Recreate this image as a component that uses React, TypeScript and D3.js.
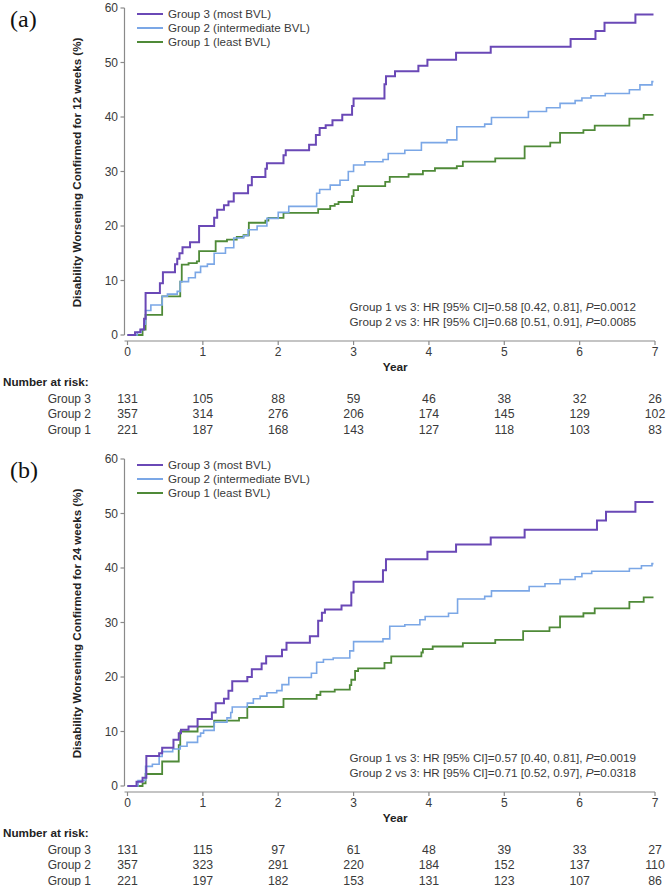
import React from "react";
import * as d3 from "d3";

type Pt = [number, number];

const years = [0, 1, 2, 3, 4, 5, 6, 7];
const yTicks = [0, 10, 20, 30, 40, 50, 60];
const groupNames = ["Group 3", "Group 2", "Group 1"];
const legendLabels = ["Group 3 (most BVL)", "Group 2 (intermediate BVL)", "Group 1 (least BVL)"];
const groupColors = ["#6a48b6", "#7ba7e6", "#4f8a38"];
const groupWidths = [2, 1.6, 1.8];

// Panel (a): 12-week confirmed
const a3: Pt[] = [[0,0],[0.1,0.5],[0.17,1],[0.22,3],[0.24,7.7],[0.43,9.5],[0.47,11.5],[0.63,13],[0.66,14],[0.69,15],[0.73,16.1],[0.83,17],[0.95,20],[1.15,21.5],[1.19,23],[1.28,23.8],[1.34,24.5],[1.41,26],[1.6,27.5],[1.65,29],[1.83,30.5],[1.85,31.5],[2.07,33],[2.1,33.9],[2.41,34.9],[2.5,36.7],[2.55,38],[2.63,38.5],[2.72,39.4],[2.85,40.4],[2.98,42],[3.0,43.4],[3.41,46],[3.43,47.5],[3.55,48.4],[3.86,49.4],[3.98,50.5],[4.36,51.8],[4.82,52.9],[5.88,54.3],[6.21,55.8],[6.33,57.3],[6.74,58.8],[6.98,58.8]];
const a2: Pt[] = [[0,0],[0.13,0.5],[0.18,1],[0.22,2],[0.24,4.5],[0.31,5.5],[0.46,7.1],[0.53,7.5],[0.66,8],[0.7,9.8],[0.81,10.5],[0.9,11.5],[0.97,12.6],[1.06,13],[1.15,15],[1.3,16],[1.41,17.8],[1.54,18.2],[1.6,19.3],[1.72,20],[1.85,21.4],[2.0,22.5],[2.14,23.6],[2.51,26],[2.55,26.7],[2.69,27.5],[2.82,28.4],[2.93,30],[3.0,31.2],[3.15,31.8],[3.39,32.2],[3.46,33.3],[3.68,33.9],[3.9,35.3],[4.24,35.8],[4.37,38.2],[4.74,38.7],[4.83,39.9],[5.32,41],[5.56,41.7],[5.74,42.5],[5.94,43],[6.03,43.5],[6.15,43.9],[6.34,44.3],[6.66,45],[6.8,45.9],[6.96,46.5],[6.98,46.5]];
const a1: Pt[] = [[0,0],[0.2,1],[0.24,3.7],[0.46,7.1],[0.7,9.8],[0.72,12.9],[0.81,13.2],[0.92,13.5],[0.95,15.4],[1.17,17.2],[1.32,17.5],[1.45,18],[1.54,18.3],[1.61,20.6],[1.83,21],[1.87,21.5],[2.07,22.4],[2.53,23.1],[2.69,23.7],[2.75,24],[2.8,24.4],[2.98,25.5],[3.0,26.6],[3.06,27.3],[3.42,28.1],[3.48,29],[3.73,29.5],[3.92,30.1],[4.08,30.6],[4.37,31],[4.45,31.8],[4.88,32.4],[5.27,34.6],[5.61,35.3],[5.74,37.1],[6.05,37.6],[6.2,38.4],[6.66,39.7],[6.85,40.4],[6.98,40.4]];

// Panel (b): 24-week confirmed
const b3: Pt[] = [[0,0],[0.12,0.8],[0.2,1.5],[0.25,5.5],[0.42,6],[0.46,7],[0.61,8.5],[0.68,9.7],[0.71,10.3],[0.81,10.9],[0.93,12.3],[1.12,13.5],[1.17,15.2],[1.28,16],[1.34,17.5],[1.39,19.2],[1.59,20],[1.65,21.4],[1.78,22.5],[1.84,23.8],[2.05,25],[2.11,26.3],[2.42,27.5],[2.53,30.3],[2.58,31.8],[2.62,32.4],[2.84,33.1],[2.97,35.5],[3.0,37.5],[3.39,39.6],[3.43,41.6],[3.98,43],[4.36,44.3],[4.82,45.6],[5.27,47],[6.23,48.7],[6.35,50.3],[6.74,52.1],[6.98,52.1]];
const b2: Pt[] = [[0,0],[0.14,1],[0.24,3.6],[0.33,4],[0.42,5.4],[0.46,6.3],[0.6,6.8],[0.7,7.3],[0.79,8],[0.93,9.1],[0.97,9.7],[1.01,10.2],[1.15,11.7],[1.32,12.5],[1.37,13.5],[1.39,14.5],[1.59,15.2],[1.67,16],[1.76,16.5],[1.85,17.1],[1.98,17.5],[2.05,18.6],[2.14,19.9],[2.44,20.7],[2.51,22.7],[2.6,23.2],[2.73,23.5],[2.95,24.8],[3.0,26.5],[3.39,27],[3.48,29.3],[3.68,29.6],[3.88,30.5],[3.95,31.1],[4.26,31.7],[4.38,34.3],[4.74,34.8],[4.83,35.8],[5.33,36.6],[5.54,37.1],[5.74,37.9],[5.94,38.4],[6.03,39],[6.16,39.4],[6.66,39.9],[6.82,40.4],[6.96,40.8],[6.98,40.8]];
const b1: Pt[] = [[0,0],[0.2,0.5],[0.24,2.2],[0.46,4.5],[0.68,7.5],[0.7,10],[0.93,10.9],[1.15,12],[1.48,12.5],[1.59,14.5],[2.07,16],[2.51,16.7],[2.56,17.3],[2.75,17.7],[2.95,18.5],[2.97,19.5],[3.02,21.1],[3.06,21.6],[3.41,22.6],[3.5,23.8],[3.9,24.5],[3.92,25.1],[4.05,25.6],[4.45,26.2],[4.88,26.8],[5.25,28.4],[5.6,29.1],[5.74,31.1],[6.05,31.7],[6.2,32.6],[6.66,33.8],[6.85,34.6],[6.98,34.6]];

const riskA = [
  [131, 105, 88, 59, 46, 38, 32, 26],
  [357, 314, 276, 206, 174, 145, 129, 102],
  [221, 187, 168, 143, 127, 118, 103, 83],
];
const riskB = [
  [131, 115, 97, 61, 48, 39, 33, 27],
  [357, 323, 291, 220, 184, 152, 137, 110],
  [221, 197, 182, 153, 131, 123, 107, 86],
];

const hrA = [
  ["Group 1 vs 3: HR [95% CI]=0.58 [0.42, 0.81], ", "=0.0012"],
  ["Group 2 vs 3: HR [95% CI]=0.68 [0.51, 0.91], ", "=0.0085"],
];
const hrB = [
  ["Group 1 vs 3: HR [95% CI]=0.57 [0.40, 0.81], ", "=0.0019"],
  ["Group 2 vs 3: HR [95% CI]=0.71 [0.52, 0.97], ", "=0.0318"],
];

const SANS = "'Liberation Sans', Arial, Helvetica, sans-serif";
const AXIS = "#8a8a8a";
const TXT = "#3a3a3a";

function Panel({ top, label, weeks, series, risk, hr }: {
  top: number; label: string; weeks: number; series: Pt[][]; risk: number[][]; hr: string[][];
}) {
  const x = d3.scaleLinear().domain([0, 7]).range([127.5, 655]);
  const y = d3.scaleLinear().domain([0, 60]).range([top + 327, top]);
  const xAxisY = top + 333;
  const line = d3.line<Pt>().x(d => x(d[0])).y(d => y(d[1])).curve(d3.curveStepAfter);
  const order = [2, 1, 0];
  return (
    <g>
      <text x={10} y={top + 19} fontFamily="'Liberation Serif', 'Times New Roman', serif" fontSize={24} fill="#111">{label}</text>
      {/* y axis */}
      <line x1={124.5} x2={124.5} y1={y(60)} y2={y(0)} stroke={AXIS} strokeWidth={1.2} />
      {yTicks.map(t => (
        <g key={t}>
          <line x1={120.5} x2={124.5} y1={y(t)} y2={y(t)} stroke={AXIS} strokeWidth={1.2} />
          <text x={118} y={y(t)} dy="0.36em" textAnchor="end" fontFamily={SANS} fontSize={12} fill={TXT}>{t}</text>
        </g>
      ))}
      <text transform={`translate(81,${y(30) + 1}) rotate(-90)`} textAnchor="middle" fontFamily={SANS} fontSize={11.6} fontWeight="bold" fill="#222">
        {`Disability Worsening Confirmed for ${weeks} weeks (%)`}
      </text>
      {/* x axis */}
      <line x1={124.5} x2={x(7)} y1={xAxisY} y2={xAxisY} stroke={AXIS} strokeWidth={1.2} />
      {years.map(t => (
        <g key={t}>
          <line x1={x(t)} x2={x(t)} y1={xAxisY} y2={xAxisY + 4} stroke={AXIS} strokeWidth={1.2} />
          <text x={x(t)} y={xAxisY + 15} textAnchor="middle" fontFamily={SANS} fontSize={12} fill={TXT}>{t}</text>
        </g>
      ))}
      <text x={x(3.5) + 4} y={xAxisY + 30} textAnchor="middle" fontFamily={SANS} fontSize={11.8} fontWeight="bold" fill="#222">Year</text>
      {/* curves */}
      {order.map(i => (
        <path key={i} d={line(series[i]) || ""} fill="none" stroke={groupColors[i]} strokeWidth={groupWidths[i]} />
      ))}
      {/* legend */}
      {legendLabels.map((l, i) => (
        <g key={l}>
          <line x1={137} x2={163} y1={top + 6 + i * 14} y2={top + 6 + i * 14} stroke={groupColors[i]} strokeWidth={2} />
          <text x={168} y={top + 6 + i * 14} dy="0.36em" fontFamily={SANS} fontSize={11.6} fill={TXT}>{l}</text>
        </g>
      ))}
      {/* HR */}
      {hr.map((h, i) => (
        <text key={i} x={636} y={top + 299 + i * 15} dy="0.36em" textAnchor="end" fontFamily={SANS} fontSize={11.7} fill={TXT}>
          {h[0]}<tspan fontStyle="italic">P</tspan>{h[1]}
        </text>
      ))}
      {/* number at risk */}
      <text x={3} y={xAxisY + 45} fontFamily={SANS} fontSize={11.7} fontWeight="bold" fill="#222">Number at risk:</text>
      {risk.map((row, r) => (
        <g key={r}>
          <text x={91} y={xAxisY + 61.5 + r * 15.5} textAnchor="end" fontFamily={SANS} fontSize={12} fill={TXT}>{groupNames[r]}</text>
          {row.map((v, j) => (
            <text key={j} x={x(j)} y={xAxisY + 61.5 + r * 15.5} textAnchor="middle" fontFamily={SANS} fontSize={12.3} fill={TXT}>{v}</text>
          ))}
        </g>
      ))}
    </g>
  );
}

export default function App() {
  return (
    <div style={{ position: "absolute", left: 0, top: 0 }}>
      <svg width={667} height={886} style={{ display: "block", background: "#fff" }}>
        <Panel top={8} label="(a)" weeks={12} series={[a3, a2, a1]} risk={riskA} hr={hrA} />
        <Panel top={459} label="(b)" weeks={24} series={[b3, b2, b1]} risk={riskB} hr={hrB} />
      </svg>
    </div>
  );
}
